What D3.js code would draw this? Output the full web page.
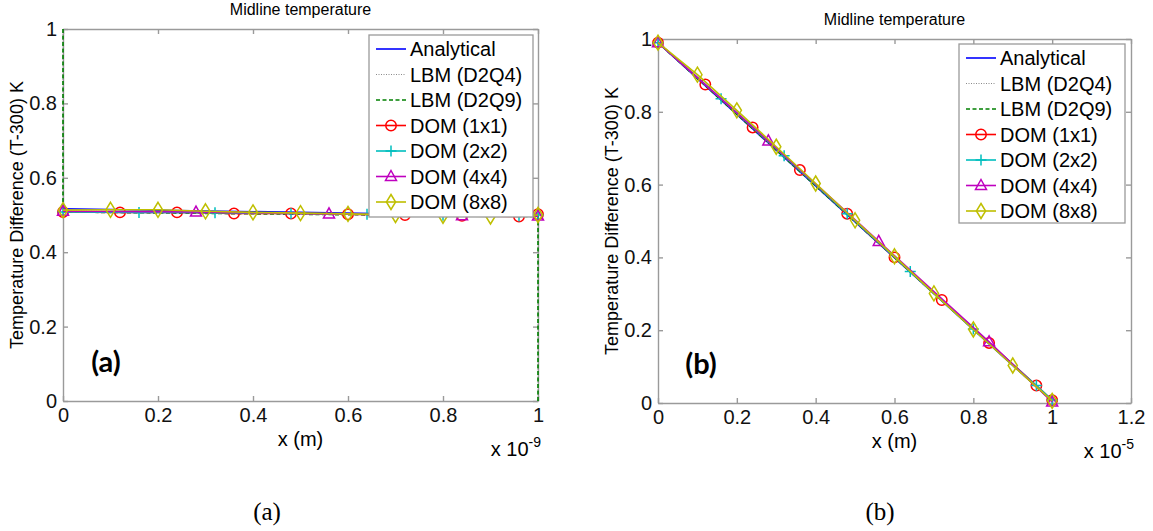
<!DOCTYPE html>
<html>
<head>
<meta charset="utf-8">
<script src="https://cdn.jsdelivr.net/npm/d3@7"></script>
<style>
  body { margin: 0; background: #fff; }
  svg { display: block; }
  .eje text { font-family: 'Liberation Sans', Arial, sans-serif; font-size: 20px; fill: #111; }
  .eje line, .eje path { stroke: #9a9a9a; stroke-width: 1.4; }
</style>
</head>
<body>
<div id="graf"></div>
<script>
// nombres de las series y ticks
var nombres = ['Analytical', 'LBM (D2Q4)', 'LBM (D2Q9)', 'DOM (1x1)', 'DOM (2x2)', 'DOM (4x4)', 'DOM (8x8)']
var xTicksA = [0, 0.2, 0.4, 0.6, 0.8, 1]
var xTicksB = [0, 0.2, 0.4, 0.6, 0.8, 1, 1.2]
var yTicks = [0, 0.2, 0.4, 0.6, 0.8, 1]

// panel (a): x en unidades de 1e-9 m
var analyticalA = [[0, 0.517], [1, 0.497]]
var d2q4A = [[0, 1], [0, 0.511], [1, 0.497], [1, 0]]
var d2q9A = [[0, 1], [0, 0.508], [1, 0.496], [1, 0]]
var dom1A = [[0, 0.508], [0.12, 0.507], [0.24, 0.507], [0.36, 0.504], [0.48, 0.504], [0.6, 0.502], [0.72, 0.5], [0.84, 0.498], [0.96, 0.496], [1, 0.502]]
var dom2A = [[0, 0.508], [0.16, 0.507], [0.32, 0.506], [0.48, 0.504], [0.64, 0.502], [0.8, 0.499], [0.96, 0.497], [1, 0.5]]
var dom4A = [[0, 0.51], [0.28, 0.508], [0.56, 0.503], [0.84, 0.498], [1, 0.497]]
var dom8A = [[0, 0.513], [0.1, 0.514], [0.2, 0.514], [0.3, 0.51], [0.4, 0.507], [0.5, 0.505], [0.6, 0.503], [0.7, 0.5], [0.8, 0.498], [0.9, 0.496], [1, 0.5]]

// panel (b): x en unidades de 1e-5 m
var analyticalB = [[0, 0.99], [1, 0.005]]
var d2q4B = [[0, 0.99], [1, 0.005]]
var d2q9B = [[0, 0.99], [1, 0.006]]
var dom1B = [[0, 0.99], [0.12, 0.875], [0.24, 0.757], [0.36, 0.64], [0.48, 0.52], [0.6, 0.4], [0.72, 0.283], [0.84, 0.165], [0.96, 0.048], [1, 0.008]]
var dom2B = [[0, 0.99], [0.16, 0.836], [0.32, 0.679], [0.48, 0.52], [0.64, 0.361], [0.8, 0.203], [0.96, 0.048], [1, 0.008]]
var dom4B = [[0, 0.99], [0.28, 0.72], [0.56, 0.444], [0.84, 0.168], [1, 0.003]]
var dom8B = [[0, 0.99], [0.1, 0.902], [0.2, 0.804], [0.3, 0.704], [0.4, 0.603], [0.5, 0.502], [0.6, 0.403], [0.7, 0.301], [0.8, 0.202], [0.9, 0.103], [1, 0.006]]

// estilo de cada serie (colores tipo matlab)
var colores = ['#0000ff', '#8a8a8a', '#008000', '#ff0000', '#00bfbf', '#bf00bf', '#bfbf00']
var guiones = [null, '1,1.5', '4,2.5', null, null, null, null]
var marcas = [null, null, null, 'o', '+', '^', 'd']

var paneles = [
  { etiqueta: '(a)', exp: '-9', xMax: 1, xTicks: xTicksA, series: [analyticalA, d2q4A, d2q9A, dom1A, dom2A, dom4A, dom8A],
    left: 63, right: 538, top: 29, bottom: 401, leg: { x: 369, y: 35, w: 164, h: 182 }, capX: 267 },
  { etiqueta: '(b)', exp: '-5', xMax: 1.2, xTicks: xTicksB, series: [analyticalB, d2q4B, d2q9B, dom1B, dom2B, dom4B, dom8B],
    left: 658, right: 1131, top: 39, bottom: 403, leg: { x: 959, y: 44, w: 166, h: 179 }, capX: 880 }
]

var svg = d3.select('#graf').append('svg')
  .attr('width', 1153)
  .attr('height', 531)

paneles.forEach(p => render(p))

// dibuja la forma de cada marcador
function marcaPath(m) {
  switch (m) {
    case 'o': return d3.symbol(d3.symbolCircle, 85)()
    case '+': return 'M-5.5,0H5.5M0,-5.5V5.5'
    case '^': return 'M0,-6L5.5,4L-5.5,4Z'
    case 'd': return 'M0,-7.5L4.6,0L0,7.5L-4.6,0Z'
  }
  return null
}

function render(p) {
  var x = d3.scaleLinear().domain([0, p.xMax]).range([p.left, p.right])
  var y = d3.scaleLinear().domain([0, 1]).range([p.bottom, p.top])
  var g = svg.append('g')

  // ejes con ticks hacia adentro (4 lados)
  g.append('g').attr('class', 'eje')
    .attr('transform', `translate(0, ${p.bottom})`)
    .call(d3.axisBottom(x).tickValues(p.xTicks).tickSize(-5).tickSizeOuter(0).tickPadding(7).tickFormat(d => String(d)))
  g.append('g').attr('class', 'eje')
    .attr('transform', `translate(0, ${p.top})`)
    .call(d3.axisTop(x).tickValues(p.xTicks).tickSize(-5).tickSizeOuter(0).tickFormat(''))
  g.append('g').attr('class', 'eje')
    .attr('transform', `translate(${p.left}, 0)`)
    .call(d3.axisLeft(y).tickValues(yTicks).tickSize(-5).tickSizeOuter(0).tickPadding(6).tickFormat(d => String(d)))
  g.append('g').attr('class', 'eje')
    .attr('transform', `translate(${p.right}, 0)`)
    .call(d3.axisRight(y).tickValues(yTicks).tickSize(-5).tickSizeOuter(0).tickFormat(''))

  // titulo y etiquetas
  var cx = (p.left + p.right) / 2
  g.append('text')
    .attr('x', cx).attr('y', p.top - 14)
    .attr('text-anchor', 'middle')
    .style('font-family', "'Liberation Sans', Arial, sans-serif")
    .style('font-size', '16px')
    .text('Midline temperature')

  g.append('text')
    .attr('x', cx).attr('y', p.bottom + 45)
    .attr('text-anchor', 'middle')
    .style('font-family', "'Liberation Sans', Arial, sans-serif")
    .style('font-size', '20px')
    .text('x (m)')

  var expo = g.append('text')
    .attr('x', p.right + 3).attr('y', p.bottom + 55)
    .attr('text-anchor', 'end')
    .style('font-family', "'Liberation Sans', Arial, sans-serif")
    .style('font-size', '20px')
  expo.append('tspan').text('x 10')
  expo.append('tspan').attr('dy', -9).style('font-size', '14px').text(p.exp)

  g.append('text')
    .attr('transform', `translate(${p.left - 46}, ${(p.top + p.bottom) / 2}) rotate(-90)`)
    .attr('text-anchor', 'middle')
    .attr('dy', '0.35em')
    .style('font-family', "'Liberation Sans', Arial, sans-serif")
    .style('font-size', '18px')
    .text('Temperature Difference (T-300) K')

  g.append('text')
    .attr('x', p.left + 43).attr('y', p.bottom - 39)
    .attr('text-anchor', 'middle')
    .attr('dy', '0.35em')
    .style('font-family', "Lato, 'Open Sans', sans-serif")
    .style('font-weight', 'bold')
    .style('font-size', '29px')
    .text(p.etiqueta)

  // series
  var linea = d3.line().x(d => x(d[0])).y(d => y(d[1]))
  p.series.forEach((s, i) => {
    g.append('path')
      .datum(s)
      .attr('d', linea)
      .attr('fill', 'none')
      .attr('stroke', colores[i])
      .attr('stroke-width', i == 1 ? 1 : 1.6)
      .attr('stroke-dasharray', guiones[i])
    if (marcas[i]) {
      g.selectAll(null)
        .data(s)
        .enter()
        .append('path')
          .attr('d', marcaPath(marcas[i]))
          .attr('transform', d => `translate(${x(d[0])}, ${y(d[1])})`)
          .attr('fill', 'none')
          .attr('stroke', colores[i])
          .attr('stroke-width', 1.5)
    }
  })

  // leyenda
  var L = p.leg
  var lg = g.append('g').attr('transform', `translate(${L.x}, ${L.y})`)
  lg.append('rect')
    .attr('width', L.w).attr('height', L.h)
    .attr('fill', '#fff')
    .attr('stroke', '#9a9a9a')
    .attr('stroke-width', 1.3)
  nombres.forEach((n, i) => {
    var ry = 14 + i * 25.5
    lg.append('line')
      .attr('x1', 7).attr('x2', 37).attr('y1', ry).attr('y2', ry)
      .attr('stroke', colores[i])
      .attr('stroke-width', i == 1 ? 1 : 1.6)
      .attr('stroke-dasharray', guiones[i])
    if (marcas[i]) {
      lg.append('path')
        .attr('d', marcaPath(marcas[i]))
        .attr('transform', `translate(22, ${ry})`)
        .attr('fill', 'none')
        .attr('stroke', colores[i])
        .attr('stroke-width', 1.5)
    }
    lg.append('text')
      .attr('x', 41).attr('y', ry)
      .attr('dy', '0.35em')
      .style('font-family', "'Liberation Sans', Arial, sans-serif")
      .style('font-size', '20px')
      .text(n)
  })

  // pie de figura
  svg.append('text')
    .attr('x', p.capX).attr('y', 520)
    .attr('text-anchor', 'middle')
    .style('font-family', "'Liberation Serif', 'DejaVu Serif', serif")
    .style('font-size', '25px')
    .text(p.etiqueta)
}
</script>
</body>
</html>
